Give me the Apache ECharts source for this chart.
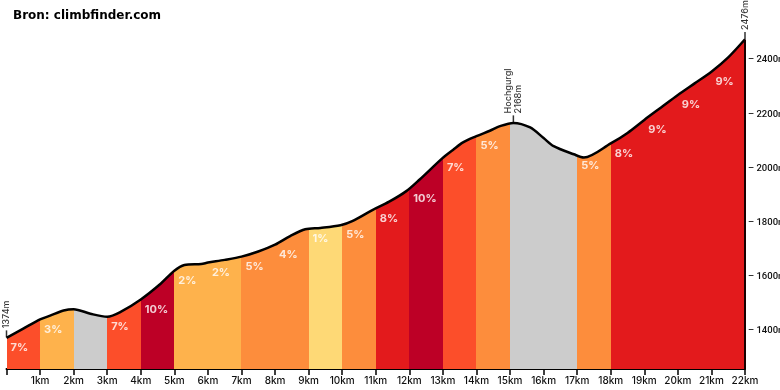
<!DOCTYPE html>
<html><head><meta charset="utf-8">
<script src="https://cdn.jsdelivr.net/npm/echarts/dist/echarts.min.js"></script>
<style>html,body{margin:0;padding:0;background:#fff}#c{width:780px;height:390px}</style>
</head><body><div id="c"></div>
<script>
// ---- data ----
const chartTitle = 'Bron: climbfinder.com';
const profileKm   = [0, 0.5, 1.0, 1.3, 1.7, 2.0, 2.5, 3.0, 3.4, 4.0, 4.6, 5.0, 5.3, 5.8, 6.0, 6.5, 7.0, 7.5, 8.0, 8.45, 8.9, 9.35, 9.95, 10.3, 10.9, 11.4, 11.9, 12.3, 12.98, 13.3, 13.6, 14.0, 14.4, 14.7, 15.1, 15.6, 16.0, 16.3, 16.9, 17.2, 18.0, 18.5, 19.0, 19.5, 20.0, 20.5, 21.0, 21.5, 22.0];
const profileElev = [1374, 1408, 1442, 1456, 1475, 1480, 1463, 1452, 1470, 1516, 1575, 1622, 1643, 1647, 1652, 1662, 1674, 1693, 1718, 1750, 1775, 1780, 1790, 1805, 1846, 1877, 1915, 1958, 2037, 2068, 2096, 2119, 2139, 2156, 2168, 2151, 2112, 2082, 2052, 2040, 2092, 2131, 2179, 2225, 2271, 2314, 2357, 2410, 2477];
// gradient per km segment (null = descent, shown grey without label)
const segmentGrades = [7, 3, null, 7, 10, 2, 2, 5, 4, 1, 5, 8, 10, 7, 5, null, null, 5, 8, 9, 9, 9];
const markerKm    = [0, 15.1, 22];
const markerElev  = [1374, 2168, 2476];
const markerNames = ['', 'Hochgurgl', ''];
const kmUnit = 'km', mUnit = 'm';

// ---- helpers ----
function gradeColor(g) {
  if (g === null) return '#cccccc';
  if (g <= 1) return '#fed976';
  if (g <= 3) return '#feb24c';
  if (g <= 5) return '#fd8d3c';
  if (g <= 7) return '#fc4e2a';
  if (g <= 9) return '#e31a1c';
  return '#bd0026';
}
function elevAt(km) {
  for (let i = 0; i < profileKm.length - 1; i++) {
    if (km >= profileKm[i] && km <= profileKm[i + 1]) {
      const t = (km - profileKm[i]) / (profileKm[i + 1] - profileKm[i]);
      return profileElev[i] + t * (profileElev[i + 1] - profileElev[i]);
    }
  }
  return profileElev[profileElev.length - 1];
}
const yMin = 1259, yMax = 2548;
const profile = profileKm.map((k, i) => [k, profileElev[i]]);
const pieces = segmentGrades.map((g, i) => i === segmentGrades.length - 1
  ? { gte: i, lte: i + 1, color: gradeColor(g) }
  : { gte: i, lt: i + 1, color: gradeColor(g) });
const gradeLabels = [];
segmentGrades.forEach((g, i) => { if (g !== null) gradeLabels.push({ value: [i, elevAt(i)], grade: g }); });
const markers = markerKm.map((k, i) => ({ value: [k, markerElev[i]], name: markerNames[i] }));

const chart = echarts.init(document.getElementById('c'), null, { renderer: 'canvas' });
chart.setOption({
  animation: false,
  backgroundColor: '#ffffff',
  title: { text: chartTitle, left: 8, top: 5,
    textStyle: { fontFamily: 'DejaVu Sans', fontSize: 12, fontWeight: 'bold', color: '#000' } },
  grid: { left: 6.5, right: 35, top: 20, bottom: 21, containLabel: false, outerBoundsMode: 'none' },
  xAxis: {
    type: 'value', min: 0, max: 22, interval: 1,
    axisLine: { show: true, lineStyle: { color: '#000', width: 2 } },
    axisTick: { show: true, length: 6, lineStyle: { color: '#000', width: 1.5 } },
    axisLabel: { margin: 7, fontFamily: 'Inter', fontSize: 10, fontWeight: 500, color: '#111',
      formatter: v => v === 0 ? '' : v + kmUnit },
    splitLine: { show: false }
  },
  yAxis: {
    type: 'value', position: 'right', min: yMin, max: yMax, splitNumber: 6,
    minInterval: 200, maxInterval: 200,
    axisLine: { show: false }, axisTick: { show: false }, splitLine: { show: false },
    axisLabel: { margin: 3, fontFamily: 'Roboto', fontSize: 9.5, fontWeight: 500, color: '#111',
      formatter: v => (v % 200 === 0) ? '– ' + v + mUnit : '' }
  },
  visualMap: { type: 'piecewise', show: false, dimension: 0, seriesIndex: 0, pieces: pieces },
  series: [
    { type: 'line', data: profile, smooth: 0.3, symbol: 'none', silent: true,
      lineStyle: { width: 0 }, areaStyle: { opacity: 1 }, z: 1 },
    { type: 'line', data: profile, smooth: 0.3, symbol: 'none', silent: true,
      lineStyle: { color: '#000', width: 2.5 }, z: 4,
      markLine: { silent: true, symbol: 'none', label: { show: false },
        lineStyle: { color: '#1a0000', width: 2, type: 'solid' },
        data: [[{ coord: [22, markerElev[2]] }, { coord: [22, yMin] }]] } },
    { type: 'scatter', data: gradeLabels, symbolSize: 1, silent: true, z: 5,
      itemStyle: { color: 'rgba(0,0,0,0)' },
      label: { show: true, position: 'inside', align: 'left', verticalAlign: 'middle', offset: [4, 10],
        fontFamily: 'Inter', fontSize: 11, fontWeight: 'bold', color: '#fff',
        formatter: p => p.data.grade + '%' } },
    { type: 'scatter', data: markers, symbol: 'rect', symbolSize: [1.5, 7], symbolOffset: [0, -4],
      silent: true, z: 6, itemStyle: { color: '#000' },
      label: { show: true, position: 'top', distance: 2, rotate: 90, align: 'left', verticalAlign: 'middle',
        fontFamily: 'Inter', fontSize: 9, fontWeight: 500, lineHeight: 10, color: '#000',
        formatter: p => (p.data.name ? p.data.name + '\n' : '') + p.data.value[1] + mUnit } }
  ]
});
</script></body></html>
